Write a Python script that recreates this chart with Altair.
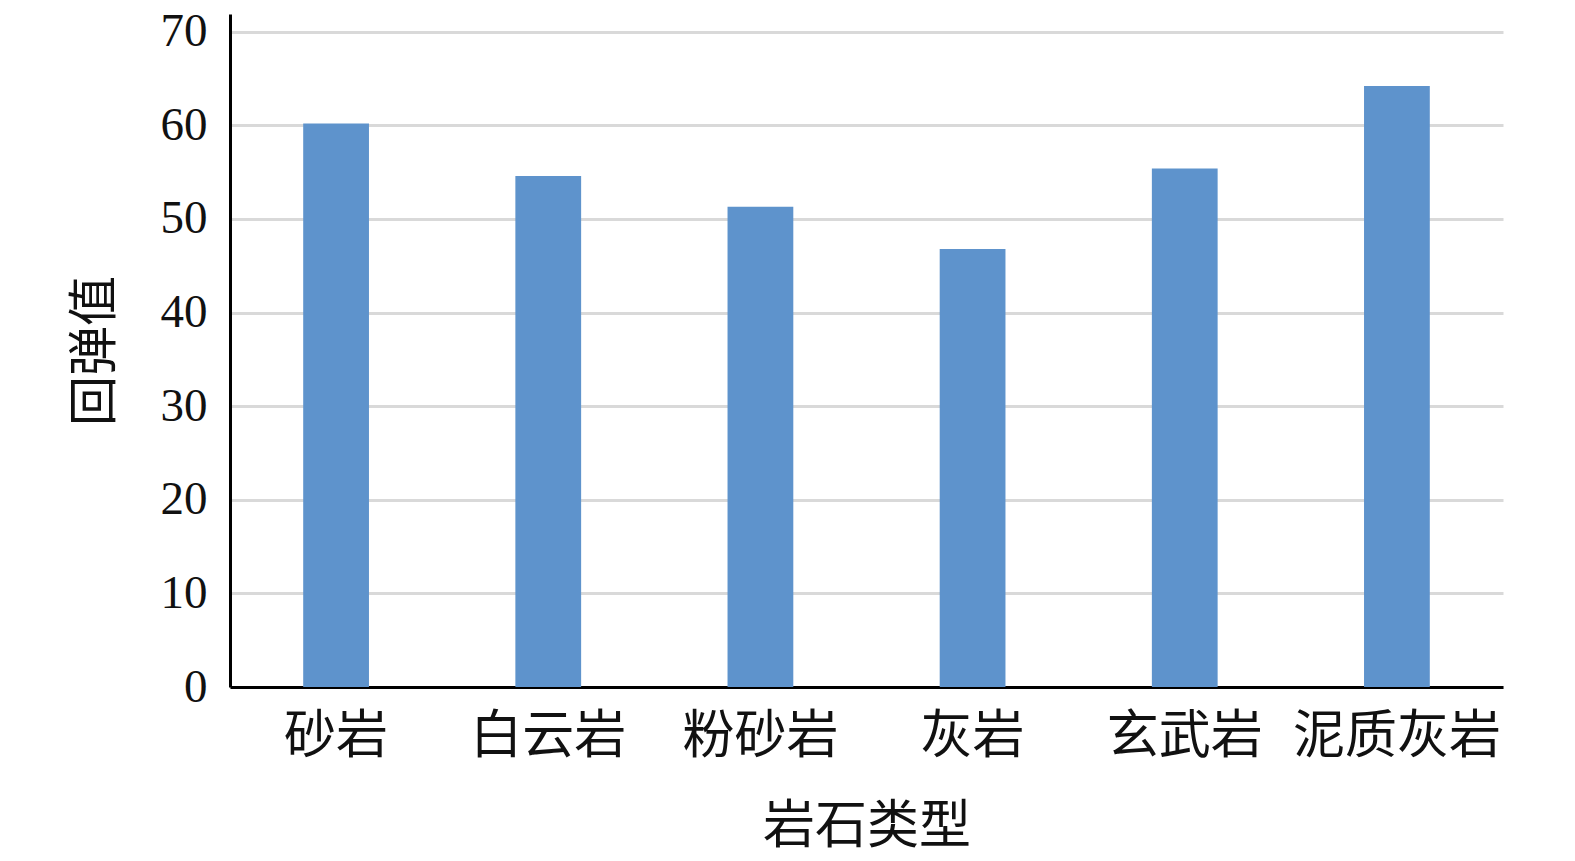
import altair as alt
import pandas as pd

categories = ["砂岩", "白云岩", "粉砂岩", "灰岩", "玄武岩", "泥质灰岩"]
values = [60.2, 54.6, 51.3, 46.8, 55.4, 64.2]
y_ticks = [0, 10, 20, 30, 40, 50, 60, 70]

df = pd.DataFrame({"type": categories, "val": values})

FONT = "Liberation Serif, Noto Sans CJK SC"

chart = alt.Chart(df).mark_bar(color="#5E93CC").encode(
    x=alt.X("type:N", sort=categories, title="岩石类型",
            scale=alt.Scale(paddingInner=0.69, paddingOuter=0.345),
            axis=alt.Axis(labelAngle=0, ticks=False, labelPadding=24, labelLimit=0,
                          labelFontSize=52, titleFontSize=52, titlePadding=39,
                          domainColor="#000000", domainWidth=3,
                          labelColor="#111111", titleColor="#111111",
                          labelFont=FONT, titleFont=FONT, titleFontWeight="normal")),
    y=alt.Y("val:Q", title="回弹值",
            scale=alt.Scale(domain=[0, 71.9], nice=False),
            axis=alt.Axis(values=y_ticks, ticks=False, labelPadding=23,
                          labelFontSize=47, titleFontSize=50, titlePadding=40,
                          domainColor="#000000", domainWidth=3,
                          gridColor="#D9D9D9", gridWidth=3,
                          labelColor="#111111", titleColor="#111111",
                          labelFont="Liberation Serif", titleFont=FONT,
                          titleFontWeight="normal")),
).properties(
    width=1273, height=673,
    autosize=alt.AutoSizeParams(type="none"),
    padding={"left": 222, "top": 6, "right": 64, "bottom": 166},
).configure_view(stroke=None)

chart.save("out.html", embed_options={"renderer": "svg", "actions": False})
